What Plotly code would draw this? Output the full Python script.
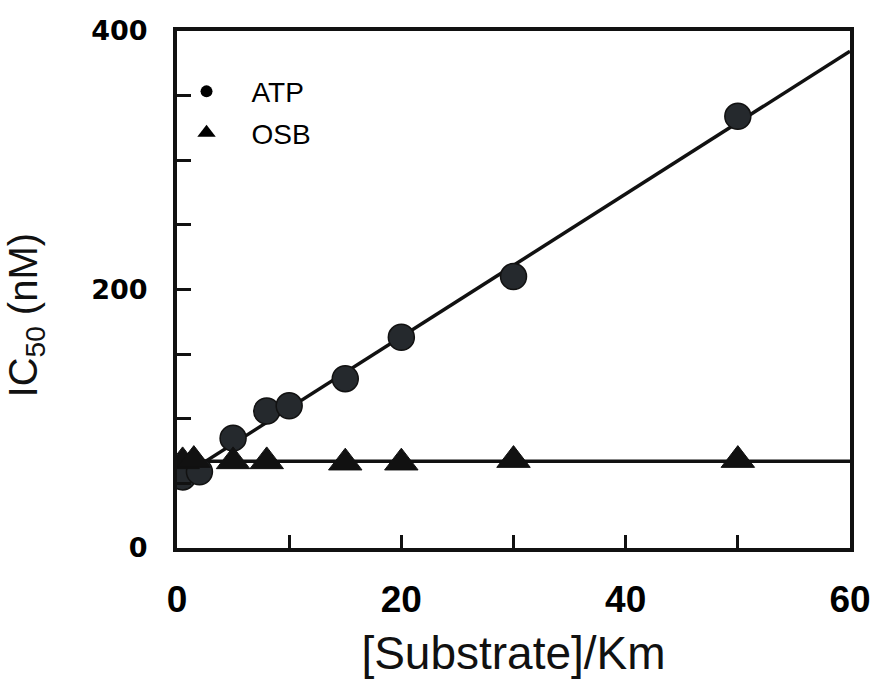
import numpy as np
import plotly.graph_objects as go

# Substrate concentration relative to Km
atp_x = [0.5, 2, 5, 8, 10, 15, 20, 30, 50]
atp_ic50 = [55, 59, 85, 106, 110, 131, 163, 210, 334]

osb_x = [0.5, 1.5, 5, 8, 15, 20, 30, 50]
osb_ic50 = [67, 68, 67, 67, 66, 66, 68, 68]

x_range = [0, 60]
y_range = [0, 400]
x_ticks = [0, 20, 40, 60]
y_ticks = [0, 200, 400]

# Linear fit for ATP (competitive) and flat mean for OSB (non-competitive)
slope, intercept = np.polyfit(atp_x, atp_ic50, 1)
fit_x = np.array(x_range, dtype=float)
atp_fit = slope * fit_x + intercept
osb_fit = np.full_like(fit_x, np.mean(osb_ic50))

INK = "#111111"
FILL = "#25292d"

fig = go.Figure()

fig.add_trace(go.Scatter(x=fit_x, y=atp_fit, mode="lines",
                         line=dict(color=INK, width=3.5), showlegend=False))
fig.add_trace(go.Scatter(x=fit_x, y=osb_fit, mode="lines",
                         line=dict(color=INK, width=3.5), showlegend=False))

fig.add_trace(go.Scatter(x=atp_x, y=atp_ic50, mode="markers", showlegend=False,
                         marker=dict(symbol="circle", size=26, color=FILL,
                                     line=dict(color=INK, width=1.5))))
fig.add_trace(go.Scatter(x=osb_x, y=osb_ic50, mode="markers", showlegend=False,
                         marker=dict(symbol="triangle-up", size=29, color=INK,
                                     line=dict(color=INK, width=1))))

# legend entries
fig.add_trace(go.Scatter(x=[None], y=[None], mode="markers", name="ATP",
                         legendgroup="a",
                         marker=dict(symbol="circle", size=12, color="black")))
fig.add_trace(go.Scatter(x=[None], y=[None], mode="markers", name="OSB",
                         legendgroup="b",
                         marker=dict(symbol="triangle-up", size=16, color="black")))

tick_font_y = dict(family="DejaVu Sans", size=27, color="black", weight="bold")
tick_font_x = dict(family="Liberation Sans, Arial", size=37, color="black",
                   weight="bold")

fig.update_layout(
    width=872, height=682,
    margin=dict(l=177, r=22, t=31, b=134),
    paper_bgcolor="white", plot_bgcolor="white",
    font=dict(family="Liberation Sans, Arial", color="black"),
    legend=dict(x=-0.023, y=0.931, xanchor="left", yanchor="top",
                font=dict(family="Liberation Sans, Arial", size=28, color="black"),
                itemwidth=80, tracegroupgap=2, traceorder="grouped",
                bgcolor="rgba(0,0,0,0)"),
    xaxis=dict(
        range=x_range, tickvals=x_ticks, ticks="inside", ticklen=13, tickwidth=3,
        tickcolor=INK, showline=True, linewidth=4, linecolor=INK, mirror=True,
        showgrid=False, zeroline=False, tickfont=tick_font_x, ticklabelstandoff=16,
        ticklabeloverflow="allow", automargin=False,
        minor=dict(dtick=10, ticks="inside", ticklen=13, tickwidth=3, tickcolor=INK),
        title=dict(text="[Substrate]/Km", standoff=18,
                   font=dict(family="Liberation Sans, Arial", size=46, color="#111")),
    ),
    yaxis=dict(
        range=y_range, tickvals=y_ticks, ticks="inside", ticklen=14, tickwidth=3,
        tickcolor=INK, showline=True, linewidth=4, linecolor=INK, mirror=True,
        showgrid=False, zeroline=False, tickfont=tick_font_y, ticklabelstandoff=20,
        ticklabeloverflow="allow", automargin=False,
        minor=dict(dtick=50, ticks="inside", ticklen=14, tickwidth=3, tickcolor=INK),
    ),
    annotations=[dict(
        text="IC<sub>50</sub> (nM)", textangle=-90, showarrow=False,
        xref="paper", yref="paper", x=-0.225, y=0.449,
        xanchor="center", yanchor="middle",
        font=dict(family="Liberation Sans, Arial", size=40, color="#111"),
    )],
)

fig.write_html("out.html")
